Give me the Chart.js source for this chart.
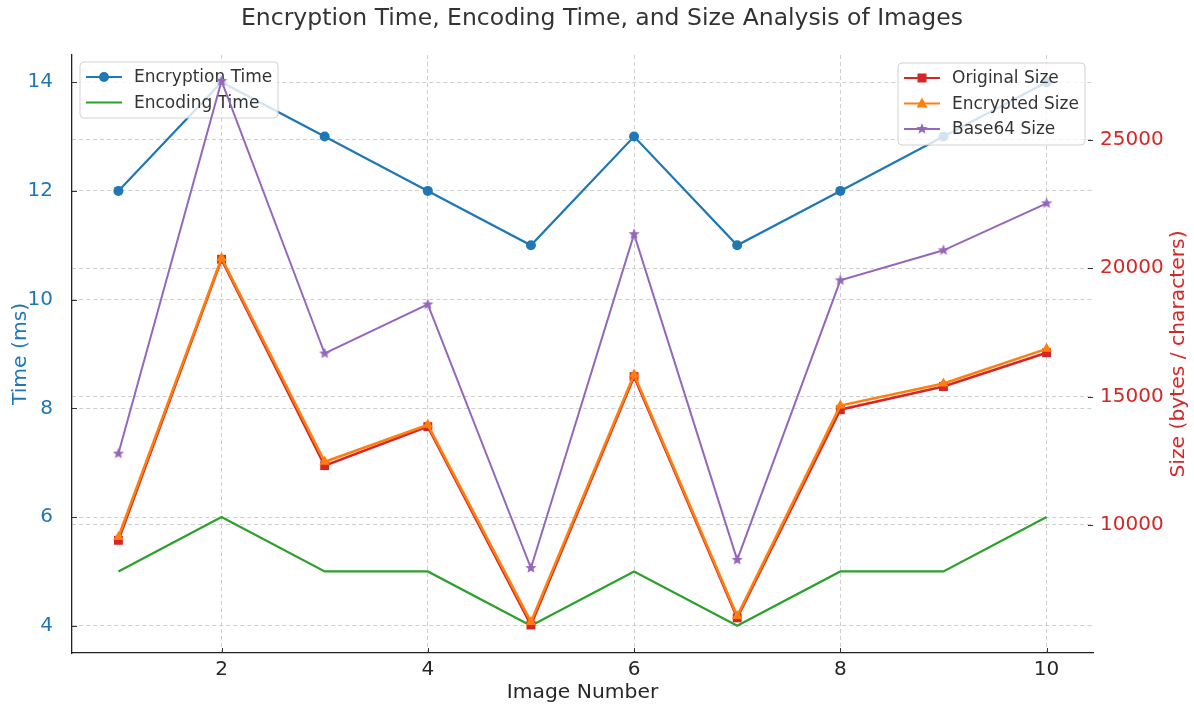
<!DOCTYPE html>
<html lang="en">
<head>
    <meta charset="UTF-8">
    <title>Encryption Time, Encoding Time, and Size Analysis of Images</title>
    <script src="https://cdn.jsdelivr.net/npm/chart.js"></script>
    <style>
        body {
            margin: 0;
            background-color: #fff;
        }
        #chartBox {
            width: 1194px;
            height: 709px;
        }
    </style>
</head>
<body>
<div id="chartBox">
    <canvas id="imageChart" width="1194" height="709"></canvas>
</div>

<script>
    // values
    const imageNumbers = [1, 2, 3, 4, 5, 6, 7, 8, 9, 10];
    const encryptionTime = [12, 14, 13, 12, 11, 13, 11, 12, 13, 14];
    const encodingTime = [5, 6, 5, 5, 4, 5, 4, 5, 5, 6];
    const originalSize = [9400, 20350, 12310, 13830, 6100, 15780, 6380, 14490, 15390, 16710];
    const encryptedSize = [9530, 20400, 12460, 13900, 6220, 15860, 6450, 14650, 15510, 16860];
    const base64Size = [12780, 27300, 16680, 18590, 8320, 21330, 8640, 19530, 20700, 22530];

    const xTicks = [2, 4, 6, 8, 10];
    const timeTicks = [4, 6, 8, 10, 12, 14];
    const sizeTicks = [10000, 15000, 20000, 25000];

    const FONT = "'DejaVu Sans', sans-serif";
    const BLUE = '#1f77b4', GREEN = '#2ca02c', RED = '#d62728', ORANGE = '#ff7f0e', PURPLE = '#9467bd';
    const GRID = 'rgba(190, 190, 190, 0.75)';

    function points(values) {
        return imageNumbers.map((x, i) => ({ x: x, y: values[i] }));
    }

    // filled star used as a point style
    function makeStar(outer, inner, color) {
        const c = document.createElement('canvas');
        const s = Math.ceil(outer * 2 + 2);
        c.width = s;
        c.height = s;
        const g = c.getContext('2d');
        g.fillStyle = color;
        g.beginPath();
        for (let i = 0; i < 10; i++) {
            const r = i % 2 === 0 ? outer : inner;
            const a = -Math.PI / 2 + i * Math.PI / 5;
            const px = s / 2 + r * Math.cos(a);
            const py = s / 2 + r * Math.sin(a);
            if (i === 0) g.moveTo(px, py); else g.lineTo(px, py);
        }
        g.closePath();
        g.fill();
        return c;
    }
    const starImg = makeStar(6, 2.6, PURPLE);

    function drawMarker(ctx, style, x, y, color) {
        ctx.save();
        ctx.fillStyle = color;
        ctx.beginPath();
        if (style === 'circle') {
            ctx.arc(x, y, 5, 0, Math.PI * 2);
            ctx.fill();
        } else if (style === 'rect') {
            ctx.fillRect(x - 4.5, y - 4.5, 9, 9);
        } else if (style === 'triangle') {
            ctx.moveTo(x, y - 6);
            ctx.lineTo(x + 5.5, y + 4);
            ctx.lineTo(x - 5.5, y + 4);
            ctx.closePath();
            ctx.fill();
        } else if (style === 'star') {
            ctx.drawImage(starImg, x - starImg.width / 2, y - starImg.height / 2);
        }
        ctx.restore();
    }

    function drawLegend(ctx, box, items) {
        ctx.save();
        ctx.beginPath();
        ctx.roundRect(box.x, box.y, box.w, box.h, 4);
        ctx.fillStyle = 'rgba(255, 255, 255, 0.8)';
        ctx.fill();
        ctx.strokeStyle = 'rgba(204, 204, 204, 0.9)';
        ctx.lineWidth = 1;
        ctx.stroke();
        ctx.font = '17px ' + FONT;
        ctx.textBaseline = 'middle';
        items.forEach((it, i) => {
            const y = box.y + 15 + i * 25.5;
            ctx.strokeStyle = it.color;
            ctx.lineWidth = 2.2;
            ctx.beginPath();
            ctx.moveTo(box.x + 6, y);
            ctx.lineTo(box.x + 42, y);
            ctx.stroke();
            if (it.marker) drawMarker(ctx, it.marker, box.x + 24, y, it.color);
            ctx.fillStyle = '#333';
            ctx.fillText(it.label, box.x + 54, y + 1);
        });
        ctx.restore();
    }

    const overlayPlugin = {
        id: 'overlay',
        beforeDatasetDraw(chart, args) {
            // left legend sits under the size lines, like the twin axis in the source
            if (args.index === 2) {
                drawLegend(chart.ctx, { x: 80, y: 62, w: 198, h: 56 }, [
                    { label: 'Encryption Time', color: BLUE, marker: 'circle' },
                    { label: 'Encoding Time', color: GREEN, marker: null }
                ]);
            }
        },
        afterDatasetsDraw(chart) {
            drawLegend(chart.ctx, { x: 898, y: 63, w: 187, h: 82 }, [
                { label: 'Original Size', color: RED, marker: 'rect' },
                { label: 'Encrypted Size', color: ORANGE, marker: 'triangle' },
                { label: 'Base64 Size', color: PURPLE, marker: 'star' }
            ]);
        },
        afterDraw(chart) {
            const ctx = chart.ctx;
            const area = chart.chartArea;
            const sx = chart.scales.x, sy = chart.scales.y, sy2 = chart.scales.y2;
            ctx.save();
            // inward tick marks
            ctx.strokeStyle = '#333';
            ctx.lineWidth = 1;
            ctx.beginPath();
            xTicks.forEach(v => {
                const px = Math.round(sx.getPixelForValue(v)) + 0.5;
                ctx.moveTo(px, area.bottom);
                ctx.lineTo(px, area.bottom - 5);
            });
            timeTicks.forEach(v => {
                const py = Math.round(sy.getPixelForValue(v)) + 0.5;
                ctx.moveTo(area.left, py);
                ctx.lineTo(area.left + 5, py);
            });
            sizeTicks.forEach(v => {
                const py = Math.round(sy2.getPixelForValue(v)) + 0.5;
                ctx.moveTo(area.right, py);
                ctx.lineTo(area.right - 5, py);
            });
            ctx.stroke();

            // title
            ctx.fillStyle = '#333';
            ctx.textAlign = 'center';
            ctx.textBaseline = 'middle';
            ctx.font = '23.5px ' + FONT;
            ctx.fillText('Encryption Time, Encoding Time, and Size Analysis of Images', 602, 19);

            // axis titles
            ctx.font = '20.3px ' + FONT;
            ctx.fillStyle = '#262626';
            ctx.fillText('Image Number', (area.left + area.right) / 2, 693);

            const midY = (area.top + area.bottom) / 2;
            ctx.save();
            ctx.translate(21, midY);
            ctx.rotate(-Math.PI / 2);
            ctx.fillStyle = BLUE;
            ctx.fillText('Time (ms)', 0, 0);
            ctx.restore();

            ctx.save();
            ctx.translate(1179, midY);
            ctx.rotate(-Math.PI / 2);
            ctx.fillStyle = RED;
            ctx.fillText('Size (bytes / characters)', 0, 0);
            ctx.restore();
            ctx.restore();
        }
    };

    const ctx = document.getElementById('imageChart').getContext('2d');
    new Chart(ctx, {
        type: 'line',
        data: {
            datasets: [
                {
                    label: 'Encryption Time',
                    data: points(encryptionTime),
                    yAxisID: 'y',
                    borderColor: BLUE,
                    backgroundColor: BLUE,
                    borderWidth: 2.2,
                    pointStyle: 'circle',
                    pointRadius: 5,
                    pointBorderWidth: 0,
                    order: 6
                },
                {
                    label: 'Encoding Time',
                    data: points(encodingTime),
                    yAxisID: 'y',
                    borderColor: GREEN,
                    backgroundColor: GREEN,
                    borderWidth: 2.2,
                    pointRadius: 0,
                    order: 5
                },
                {
                    label: 'Original Size',
                    data: points(originalSize),
                    yAxisID: 'y2',
                    borderColor: RED,
                    backgroundColor: RED,
                    borderWidth: 2.6,
                    pointStyle: 'rect',
                    pointRadius: 6.3,
                    pointBorderWidth: 0,
                    order: 4
                },
                {
                    label: 'Encrypted Size',
                    data: points(encryptedSize),
                    yAxisID: 'y2',
                    borderColor: ORANGE,
                    backgroundColor: ORANGE,
                    borderWidth: 2.6,
                    pointStyle: 'triangle',
                    pointRadius: 6,
                    pointBorderWidth: 0,
                    order: 3
                },
                {
                    label: 'Base64 Size',
                    data: points(base64Size),
                    yAxisID: 'y2',
                    borderColor: PURPLE,
                    backgroundColor: PURPLE,
                    borderWidth: 2,
                    pointStyle: starImg,
                    pointRadius: 6,
                    order: 2
                }
            ]
        },
        options: {
            responsive: false,
            animation: false,
            events: [],
            layout: { padding: { top: 55, left: 0, right: 0, bottom: 0 } },
            elements: { line: { tension: 0 } },
            plugins: {
                legend: { display: false },
                title: { display: false },
                tooltip: { enabled: false }
            },
            scales: {
                x: {
                    type: 'linear',
                    min: 0.55,
                    max: 10.45,
                    afterBuildTicks: s => { s.ticks = xTicks.map(v => ({ value: v })); },
                    afterFit: s => { s.height = 56; },
                    grid: { color: GRID, lineWidth: 1, drawTicks: false },
                    border: { display: true, color: '#222', width: 1.3, dash: [4, 3] },
                    ticks: {
                        color: '#262626',
                        padding: 5,
                        maxRotation: 0,
                        font: { family: FONT, size: 20 }
                    }
                },
                y: {
                    position: 'left',
                    min: 3.5,
                    max: 14.5,
                    afterBuildTicks: s => { s.ticks = timeTicks.map(v => ({ value: v })); },
                    afterFit: s => { s.width = 72; },
                    grid: { color: GRID, lineWidth: 1, drawTicks: false },
                    border: { display: true, color: '#222', width: 1.3, dash: [4, 3] },
                    ticks: {
                        color: BLUE,
                        padding: 19,
                        font: { family: FONT, size: 20 }
                    }
                },
                y2: {
                    position: 'right',
                    min: 5010,
                    max: 28310,
                    afterBuildTicks: s => { s.ticks = sizeTicks.map(v => ({ value: v })); },
                    afterFit: s => { s.width = 101; },
                    grid: { color: GRID, lineWidth: 1, drawTicks: false, drawOnChartArea: true },
                    border: { display: false, dash: [4, 3] },
                    ticks: {
                        color: RED,
                        padding: 7,
                        font: { family: FONT, size: 20 },
                        callback: v => String(v)
                    }
                }
            }
        },
        plugins: [overlayPlugin]
    });
</script>
</body>
</html>
